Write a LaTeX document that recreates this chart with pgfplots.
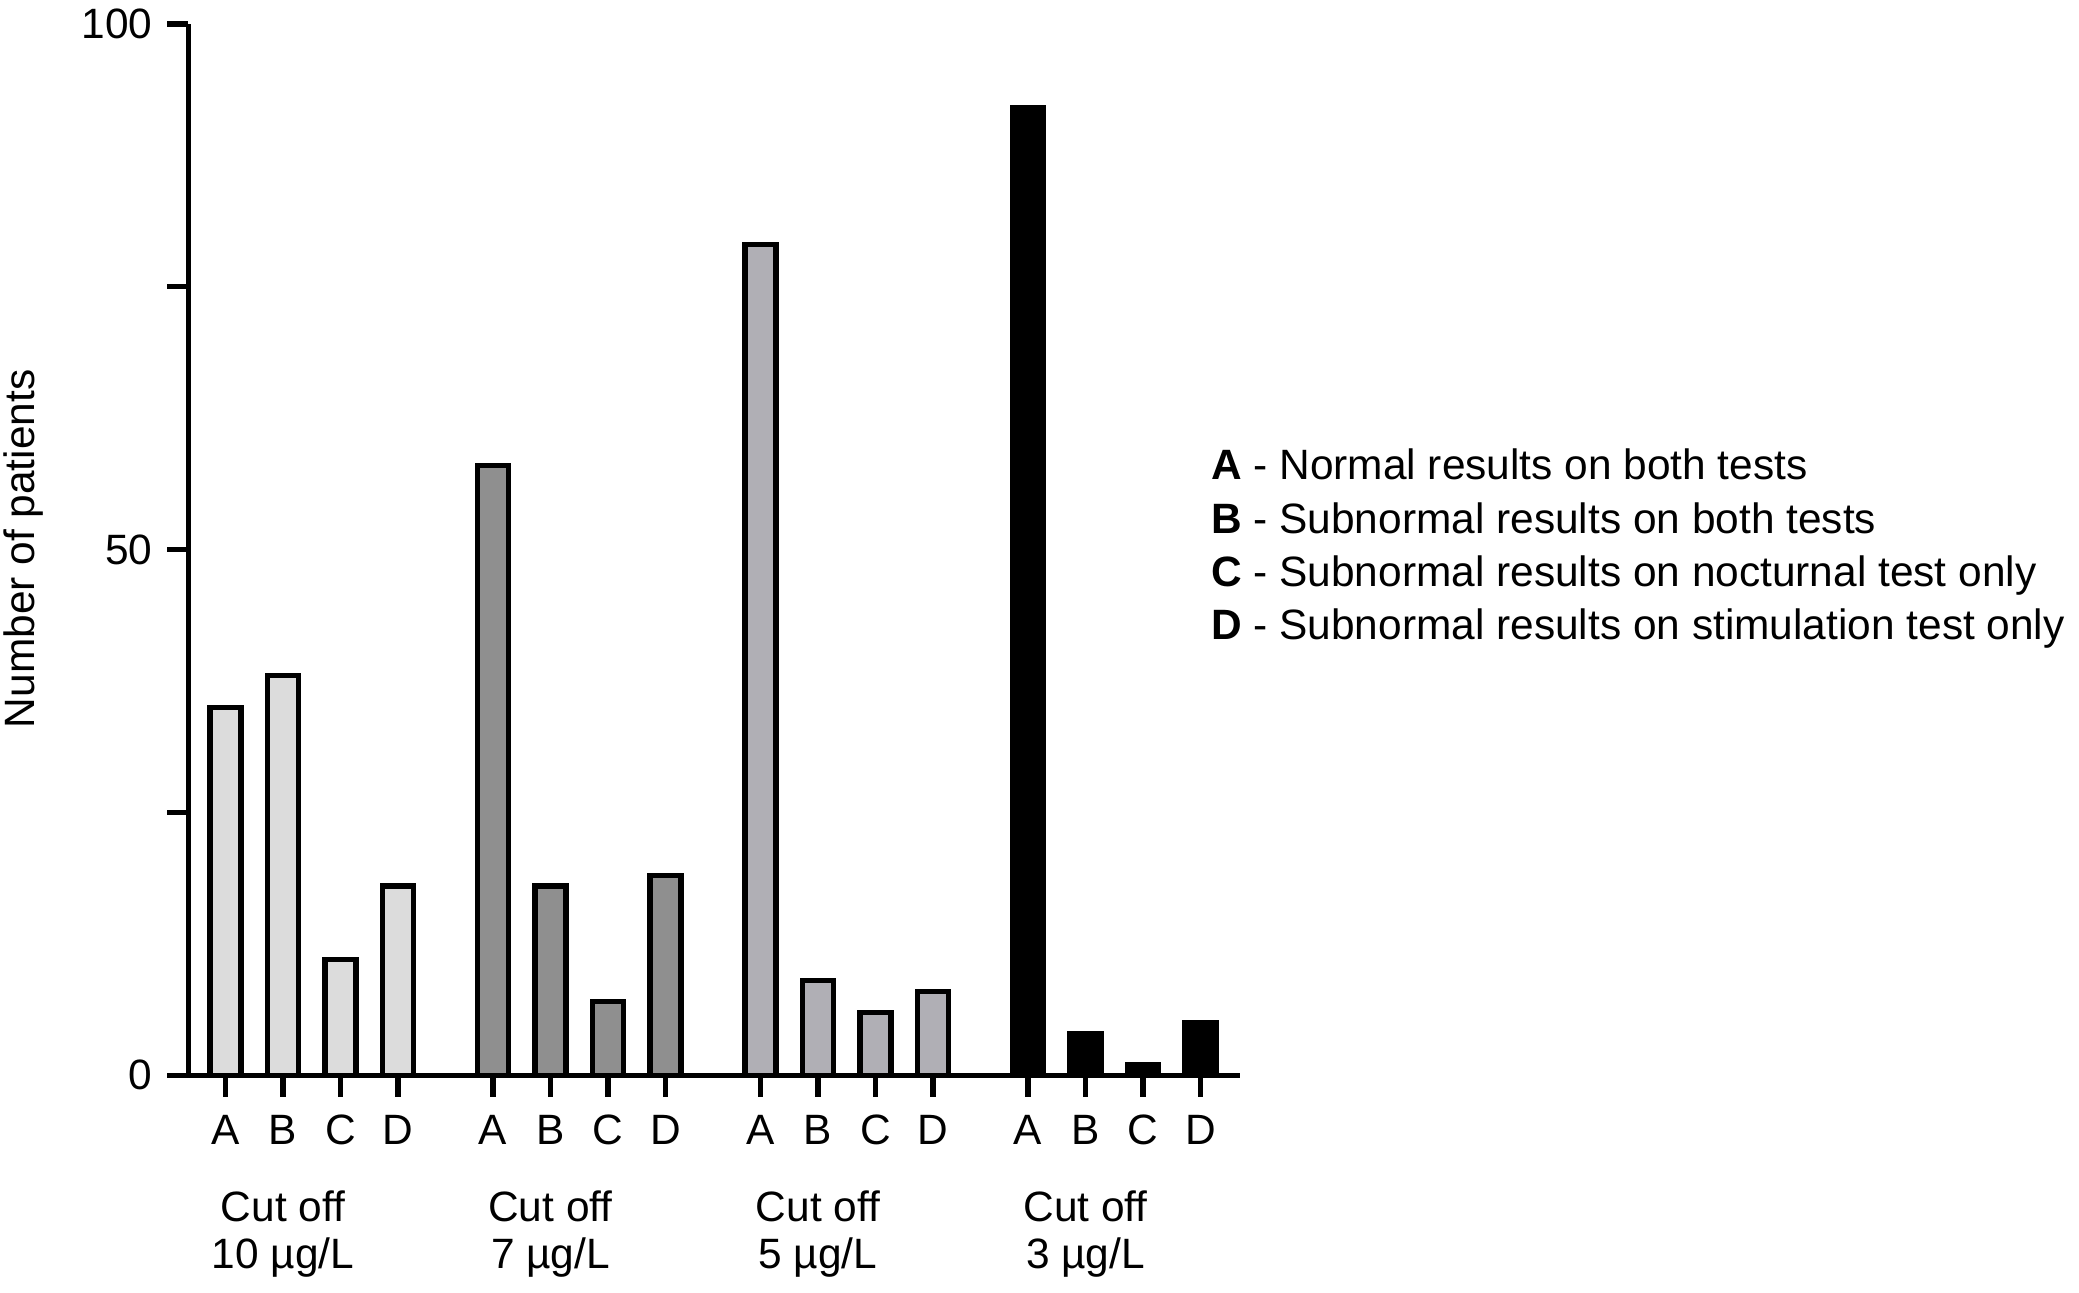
\documentclass[border=0pt]{standalone}
\usepackage{fontspec}
\setmainfont{Liberation Sans}
\usepackage{pgfplots}
\pgfplotsset{compat=1.18}
\definecolor{gten}{RGB}{220,220,220}
\definecolor{gseven}{RGB}{143,143,143}
\definecolor{gfive}{RGB}{176,175,181}
\begin{document}
\fontsize{16}{19}\selectfont
\begin{tikzpicture}
\useasboundingbox (-71pt,-82pt) rectangle (713pt,405.5pt);
\begin{axis}[at={(0pt,0pt)}, anchor=south west, scale only axis,
 width=396.5pt, height=396.5pt,
 xmin=-0.645, xmax=17.63, ymin=0, ymax=100,
 axis x line*=bottom, axis y line*=left,
 axis line style={line width=2pt, -},
 xtick={0,1,2,3,4.65,5.65,6.65,7.65,9.3,10.3,11.3,12.3,13.95,14.95,15.95,16.95},
 xticklabels={A,B,C,D,A,B,C,D,A,B,C,D,A,B,C,D},
 xticklabel style={yshift=-1.5pt},
 ytick={0,25,50,75,100}, yticklabels={0,,50,,100},
 tick align=outside, major tick length=8pt,
 tick style={line width=2pt, black},
 /pgf/number format/assume math mode=true,
 clip=false,
 bar width=0.54,
]
\addplot[ybar, bar shift=0pt, fill=gten, draw=black, line width=2pt] coordinates {(0,35)(1,38)(2,11)(3,18)};
\addplot[ybar, bar shift=0pt, fill=gseven, draw=black, line width=2pt] coordinates {(4.65,58)(5.65,18)(6.65,7)(7.65,19)};
\addplot[ybar, bar shift=0pt, fill=gfive, draw=black, line width=2pt] coordinates {(9.3,79)(10.3,9)(11.3,6)(12.3,8)};
\addplot[ybar, bar shift=0pt, fill=black, draw=black, line width=2pt] coordinates {(13.95,92)(14.95,4)(15.95,1)(16.95,5)};
\node[align=center, font=\fontsize{16}{18}\selectfont] at (axis cs:1,-15.1) {Cut off\\10 µg/L};
\node[align=center, font=\fontsize{16}{18}\selectfont] at (axis cs:5.65,-15.1) {Cut off\\7 µg/L};
\node[align=center, font=\fontsize{16}{18}\selectfont] at (axis cs:10.3,-15.1) {Cut off\\5 µg/L};
\node[align=center, font=\fontsize{16}{18}\selectfont] at (axis cs:14.95,-15.1) {Cut off\\3 µg/L};
\end{axis}
\node[rotate=90] at (-62pt,198.5pt) {Number of patients};
\node[anchor=base west, inner sep=0pt] at (385.5pt,224.5pt) {\textbf{A} - Normal results on both tests};
\node[anchor=base west, inner sep=0pt] at (385.5pt,204.5pt) {\textbf{B} - Subnormal results on both tests};
\node[anchor=base west, inner sep=0pt] at (385.5pt,184.5pt) {\textbf{C} - Subnormal results on nocturnal test only};
\node[anchor=base west, inner sep=0pt] at (385.5pt,164.5pt) {\textbf{D} - Subnormal results on stimulation test only};
\end{tikzpicture}
\end{document}
